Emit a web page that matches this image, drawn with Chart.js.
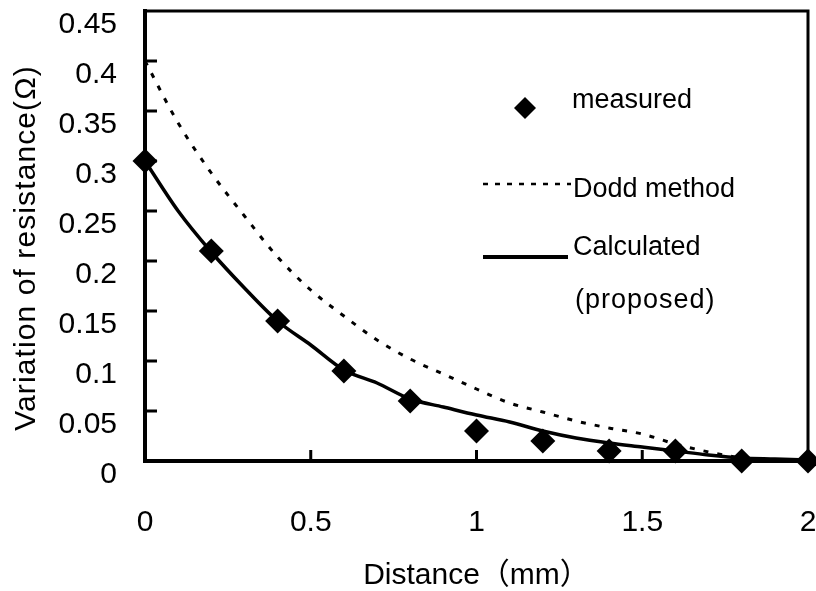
<!DOCTYPE html>
<html><head><meta charset="utf-8">
<style>html,body{margin:0;padding:0;background:#fff;}#wrap{width:816px;height:591px;}</style>
<script src="https://cdn.jsdelivr.net/npm/chart.js@4.4.1/dist/chart.umd.min.js"></script>
</head><body><div id="wrap"><canvas id="c" width="816" height="591"></canvas></div>
<script>
// ---- data ----
const measuredX = [0, 0.2, 0.4, 0.6, 0.8, 1.0, 1.2, 1.4, 1.6, 1.8, 2.0];
const measuredY = [0.30, 0.21, 0.14, 0.09, 0.06, 0.03, 0.02, 0.01, 0.01, 0.0, 0.0];

const calcX = [0, 0.1, 0.2, 0.3, 0.4, 0.5, 0.6, 0.7, 0.8, 0.9, 1.0, 1.1, 1.2, 1.3, 1.4, 1.5, 1.6, 1.7, 1.8, 1.9, 2.0];
const calcY = [0.300, 0.250, 0.209, 0.173, 0.140, 0.116, 0.091, 0.078, 0.062, 0.054, 0.046, 0.039, 0.030, 0.023, 0.018, 0.014, 0.010, 0.006, 0.003, 0.002, 0.001];

const doddX = [0, 0.1, 0.2, 0.3, 0.4, 0.5, 0.6, 0.7, 0.8, 0.9, 1.0, 1.1, 1.2, 1.3, 1.4, 1.5, 1.6, 1.7, 1.8, 1.9];
const doddY = [0.400, 0.338, 0.288, 0.245, 0.204, 0.171, 0.145, 0.121, 0.102, 0.087, 0.072, 0.058, 0.049, 0.040, 0.033, 0.027, 0.017, 0.009, 0.003, 0.0];

const xTickLabels = ['0', '0.5', '1', '1.5', '2'];
const yTickLabels = ['0', '0.05', '0.1', '0.15', '0.2', '0.25', '0.3', '0.35', '0.4', '0.45'];

const seriesNames = ['measured', 'Dodd method', 'Calculated', '(proposed)'];
const xTitle = 'Distance（mm）';
const yTitle = 'Variation of resistance(Ω)';

// ---- helpers ----
const FONT = "'Liberation Sans', Arial, 'Noto Sans CJK JP', sans-serif";
const pts = (xs, ys) => xs.map((x, i) => ({x: x, y: ys[i]}));

const framePlugin = {
  id: 'frame',
  beforeDatasetsDraw(chart) {
    const {ctx, chartArea: a, scales} = chart;
    ctx.save();
    ctx.strokeStyle = '#000';
    ctx.lineCap = 'butt';
    // top and right borders
    ctx.lineWidth = 3;
    ctx.beginPath();
    ctx.moveTo(a.left - 2, a.top);
    ctx.lineTo(a.right, a.top);
    ctx.lineTo(a.right, a.bottom + 2);
    ctx.stroke();
    // inward tick marks
    ctx.lineWidth = 3;
    ctx.beginPath();
    scales.y.ticks.forEach((t, i) => {
      if (i === 0 || i === scales.y.ticks.length - 1) return;
      const py = scales.y.getPixelForValue(t.value);
      ctx.moveTo(a.left, py);
      ctx.lineTo(a.left + 12, py);
    });
    scales.x.ticks.forEach((t, i) => {
      if (i === 0 || i === scales.x.ticks.length - 1) return;
      const px = scales.x.getPixelForValue(t.value);
      ctx.moveTo(px, a.bottom);
      ctx.lineTo(px, a.bottom - 11);
    });
    ctx.stroke();
    // y title
    ctx.fillStyle = '#000';
    ctx.font = '30px ' + FONT;
    ctx.letterSpacing = '1.1px';
    const w = ctx.measureText(yTitle).width;
    ctx.translate(27, (a.top + a.bottom) / 2 + 12);
    ctx.rotate(-Math.PI / 2);
    ctx.textBaseline = 'middle';
    ctx.textAlign = 'left';
    ctx.fillText(yTitle, -w / 2, 0);
    ctx.restore();
  },
  afterDatasetsDraw(chart) {
    const {ctx, chartArea: a} = chart;
    const L = a.left, T = a.top;
    ctx.save();
    ctx.fillStyle = '#000';
    ctx.strokeStyle = '#000';
    // diamond
    const r = 11, cx = L + 380, cy = T + 97;
    ctx.beginPath();
    ctx.moveTo(cx - r, cy); ctx.lineTo(cx, cy - r); ctx.lineTo(cx + r, cy); ctx.lineTo(cx, cy + r);
    ctx.closePath(); ctx.fill();
    // dotted
    ctx.lineWidth = 2.5;
    ctx.setLineDash([5, 7]);
    ctx.beginPath(); ctx.moveTo(L + 338, T + 173); ctx.lineTo(L + 426, T + 173); ctx.stroke();
    // solid
    ctx.setLineDash([]);
    ctx.lineWidth = 4;
    ctx.beginPath(); ctx.moveTo(L + 338, T + 246); ctx.lineTo(L + 423, T + 246); ctx.stroke();
    // texts
    ctx.font = '27px ' + FONT;
    ctx.textBaseline = 'alphabetic';
    ctx.textAlign = 'left';
    ctx.fillText(seriesNames[0], L + 427, T + 97);
    ctx.fillText(seriesNames[1], L + 428, T + 186);
    ctx.fillText(seriesNames[2], L + 428, T + 244);
    ctx.letterSpacing = '1px';
    ctx.fillText(seriesNames[3], L + 430, T + 297);
    ctx.restore();
  }
};

new Chart(document.getElementById('c'), {
  type: 'scatter',
  data: {
    datasets: [
      {
        label: seriesNames[0],
        data: pts(measuredX, measuredY),
        pointStyle: 'rectRot', pointRadius: 12.5, pointHoverRadius: 12.5,
        backgroundColor: '#000', borderColor: '#000', borderWidth: 0,
        showLine: false, clip: false, order: 0
      },
      {
        label: seriesNames[2],
        data: pts(calcX, calcY),
        showLine: true, borderColor: '#000', borderWidth: 3.5,
        pointRadius: 0, cubicInterpolationMode: 'monotone', order: 1
      },
      {
        label: seriesNames[1],
        data: pts(doddX, doddY),
        showLine: true, borderColor: '#000', borderWidth: 3, borderDash: [5, 9],
        pointRadius: 0, cubicInterpolationMode: 'monotone', order: 2
      }
    ]
  },
  options: {
    responsive: false, animation: false, devicePixelRatio: 1,
    layout: {autoPadding: false, padding: {top: 11, right: 8, left: 0, bottom: 0}},
    plugins: {legend: {display: false}, tooltip: {enabled: false}},
    scales: {
      x: {
        type: 'linear', min: 0, max: 2,
        afterBuildTicks: s => { s.ticks = xTickLabels.map(v => ({value: Number(v)})); },
        afterFit: s => { s.height = 130; s.paddingLeft = 0; s.paddingRight = 0; s.paddingTop = 0; s.paddingBottom = 0; },
        grid: {display: false, drawTicks: false},
        border: {display: true, color: '#000', width: 4},
        ticks: {
          color: '#000', font: {family: FONT, size: 30}, padding: 44,
          maxRotation: 0, autoSkip: false,
          callback: (v, i) => xTickLabels[i]
        },
        title: {display: true, text: xTitle, color: '#000',
          font: {family: FONT, size: 30, lineHeight: 1}, padding: {top: 0, bottom: 0}}
      },
      y: {
        type: 'linear', min: 0, max: 0.45,
        afterBuildTicks: s => { s.ticks = yTickLabels.map(v => ({value: Number(v)})); },
        afterFit: s => { s.width = 145; s.paddingLeft = 0; s.paddingRight = 0; s.paddingTop = 0; s.paddingBottom = 0; },
        grid: {display: false, drawTicks: false},
        border: {display: true, color: '#000', width: 4},
        ticks: {
          color: '#000', font: {family: FONT, size: 30}, padding: 28,
          labelOffset: 14, autoSkip: false,
          callback: (v, i) => yTickLabels[i]
        }
      }
    }
  },
  plugins: [framePlugin]
});
</script>
</body></html>
